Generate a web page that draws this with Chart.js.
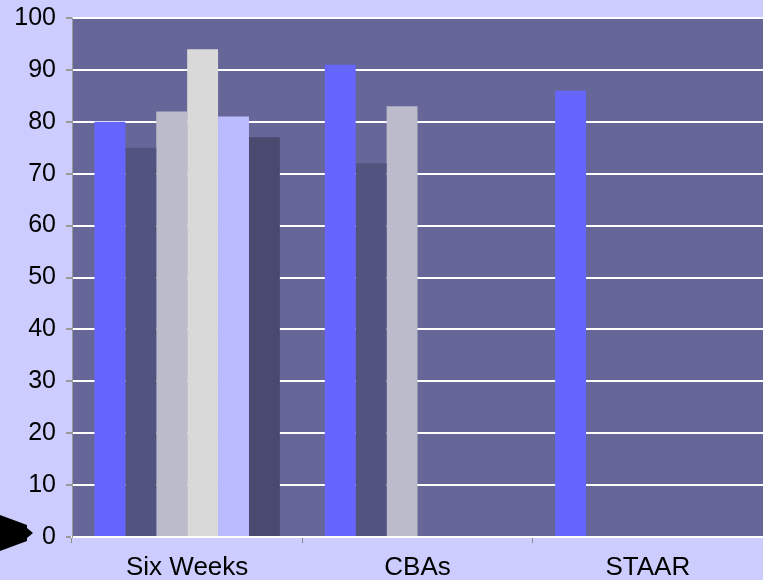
<!DOCTYPE html>
<html>
<head>
<meta charset="utf-8">
<script src="https://cdn.jsdelivr.net/npm/chart.js@4/dist/chart.umd.min.js"></script>
<style>
html,body{margin:0;padding:0;background:#CCCCFF;}
#wrap{width:763px;height:580px;}
</style>
</head>
<body>
<div id="wrap"><canvas id="c" width="763" height="580"></canvas></div>
<script>
const categories = ["Six Weeks", "CBAs", "STAAR"];
const series1 = [80, 91, 86];
const series2 = [75, 72, null];
const series3 = [82, 83, null];
const series4 = [94, null, null];
const series5 = [81, null, null];
const series6 = [77, null, null];
const yTicks = [0, 10, 20, 30, 40, 50, 60, 70, 80, 90, 100];

const colors = ["#6666FF", "#535380", "#BBBBCC", "#D9D9D9", "#BBBBFF", "#4A4A70"];
const allSeries = [series1, series2, series3, series4, series5, series6];

const bgPlugin = {
  id: 'bg',
  beforeDraw(chart) {
    const ctx = chart.ctx;
    const a = chart.chartArea;
    ctx.save();
    ctx.fillStyle = '#CCCCFF';
    ctx.fillRect(0, 0, chart.width, chart.height);
    ctx.fillStyle = '#666699';
    ctx.fillRect(a.left, a.top, a.right - a.left, a.bottom - a.top);
    ctx.restore();
  },
  afterDraw(chart) {
    const ctx = chart.ctx;
    const y0 = chart.scales.y.getPixelForValue(0) - 4;
    ctx.save();
    ctx.fillStyle = '#000';
    ctx.beginPath();
    ctx.moveTo(0, y0 - 18);
    ctx.lineTo(27, y0 - 8);
    ctx.lineTo(27, y0 - 5);
    ctx.lineTo(33, y0);
    ctx.lineTo(27, y0 + 5);
    ctx.lineTo(27, y0 + 8);
    ctx.lineTo(0, y0 + 18);
    ctx.closePath();
    ctx.fill();
    ctx.restore();
  }
};

new Chart(document.getElementById('c'), {
  type: 'bar',
  data: {
    labels: categories,
    datasets: allSeries.map((s, i) => ({
      label: 'S' + (i + 1),
      data: s,
      backgroundColor: colors[i],
      borderWidth: 0,
      categoryPercentage: 0.805,
      barPercentage: 1.0
    }))
  },
  options: {
    responsive: false,
    animation: false,
    layout: { padding: { top: 18, right: 0, left: 0, bottom: 0 } },
    plugins: { legend: { display: false }, tooltip: { enabled: false } },
    scales: {
      x: {
        grid: { display: true, drawOnChartArea: false, color: '#888', tickLength: 6, offset: true },
        border: { display: true, color: '#FFFFFF', width: 2 },
        ticks: { color: '#000', font: { family: 'Liberation Sans, Arial', size: 26 }, padding: 9 },
        afterFit(scale) { scale.height = 43; scale.paddingLeft = 0; scale.paddingRight = 0; }
      },
      y: {
        min: 0, max: 100,
        afterBuildTicks(scale) { scale.ticks = yTicks.map(v => ({ value: v })); },
        grid: { color: '#FFFFFF', lineWidth: 2, tickColor: '#999', tickLength: 6 },
        border: { display: true, color: '#999', width: 1 },
        ticks: { color: '#000', font: { family: 'Liberation Sans, Arial', size: 25 }, padding: 10 },
        afterFit(scale) { scale.width = 72; scale.paddingTop = 0; scale.paddingBottom = 0; }
      }
    }
  },
  plugins: [bgPlugin]
});
</script>
</body>
</html>
